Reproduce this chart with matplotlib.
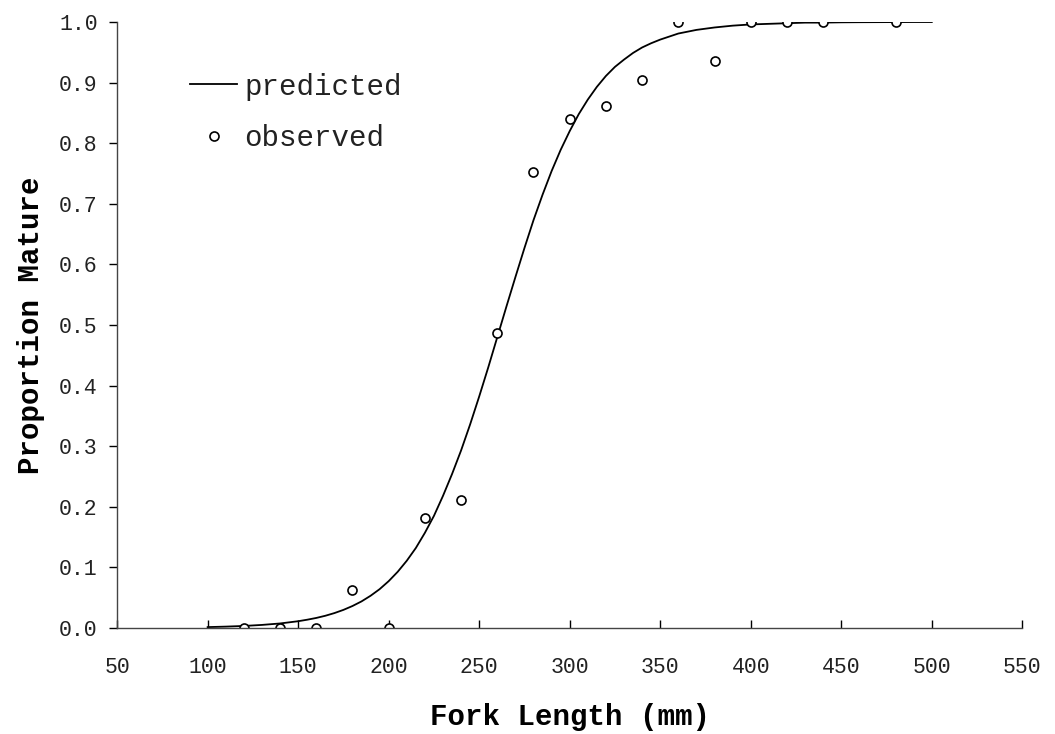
import matplotlib
matplotlib.use('Agg')

import matplotlib.pyplot as plt
from matplotlib.lines import Line2D

# predicted curve (every 5-10 mm)
pred_x = [100, 110, 120, 130, 140, 150, 155, 160, 165, 170, 175, 180, 185, 190, 195,
          200, 205, 210, 215, 220, 225, 230, 235, 240, 245, 250, 255, 260, 265, 270, 275,
          280, 285, 290, 295, 300, 305, 310, 315, 320, 325, 330, 335, 340, 345, 350, 355,
          360, 365, 370, 375, 380, 390, 400, 410, 420, 430, 440, 450, 460, 470, 480, 490, 500]
pred_y = [0.0015, 0.0023, 0.0034, 0.0051, 0.0075, 0.0112, 0.0137, 0.0166, 0.0202, 0.0246,
          0.0299, 0.0363, 0.0439, 0.0532, 0.0641,
          0.0773, 0.0928, 0.111, 0.132, 0.157, 0.185, 0.218, 0.254, 0.293, 0.336,
          0.382, 0.430, 0.480, 0.530, 0.579, 0.627,
          0.673, 0.715, 0.754, 0.789, 0.820, 0.848, 0.872, 0.893, 0.911, 0.926,
          0.938, 0.949, 0.958, 0.965, 0.971, 0.976,
          0.981, 0.984, 0.987, 0.989, 0.991, 0.994, 0.996, 0.997, 0.998, 0.999, 0.999,
          0.9995, 0.9997, 0.9998, 0.9999, 1.0, 1.0]

# observed proportions
obs_x = [120, 140, 160, 180, 200, 220, 240, 260, 280, 300, 320, 340, 360, 380, 400, 420, 440, 480]
obs_y = [0.0, 0.0, 0.0, 0.062, 0.0, 0.182, 0.212, 0.487, 0.752, 0.840, 0.862, 0.905,
         1.0, 0.935, 1.0, 1.0, 1.0, 1.0]

x_ticks = list(range(50, 551, 50))
y_ticks = [i / 10 for i in range(11)]

plt.rcParams['font.family'] = ['Liberation Mono', 'DejaVu Sans Mono']

fig = plt.figure(figsize=(10.55, 7.34), dpi=100)
ax = fig.add_axes([0.111, 0.1444, 0.858, 0.8256])

ax.plot(pred_x, pred_y, color='black', linewidth=1.3, solid_joinstyle='round')
ax.plot(obs_x, obs_y, linestyle='none', marker='o', markersize=6.5,
        markerfacecolor='white', markeredgecolor='black', markeredgewidth=1.2)

ax.set_xlim(50, 550)
ax.set_ylim(0, 1)
ax.set_xticks(x_ticks)
ax.set_yticks(y_ticks)
ax.set_yticklabels([f'{v:.1f}' for v in y_ticks])
ax.tick_params(axis='x', direction='in', length=6, width=1, labelsize=15.5, pad=21)
ax.tick_params(axis='y', direction='out', length=6, width=1, labelsize=15.5, pad=8)
for lab in ax.get_xticklabels() + ax.get_yticklabels():
    lab.set_color('#222222')

for side in ['top', 'right']:
    ax.spines[side].set_visible(False)
for side in ['left', 'bottom']:
    ax.spines[side].set_color('#444444')
    ax.spines[side].set_linewidth(1)

ax.set_xlabel('Fork Length (mm)', fontsize=21, fontweight='bold', labelpad=18)
ax.set_ylabel('Proportion Mature', fontsize=21, fontweight='bold', labelpad=10)

handles = [Line2D([], [], color='black', linewidth=1.3),
           Line2D([], [], linestyle='none', marker='o', markersize=6.5,
                  markerfacecolor='white', markeredgecolor='black', markeredgewidth=1.2)]
leg = ax.legend(handles, ['predicted', 'observed'], loc='upper left', bbox_to_anchor=(0.052, 0.96),
                frameon=False, fontsize=21, handlelength=1.6, handletextpad=0.25, labelspacing=0.8)
for t in leg.get_texts():
    t.set_color('#222222')

fig.savefig('out.png', dpi=100)
